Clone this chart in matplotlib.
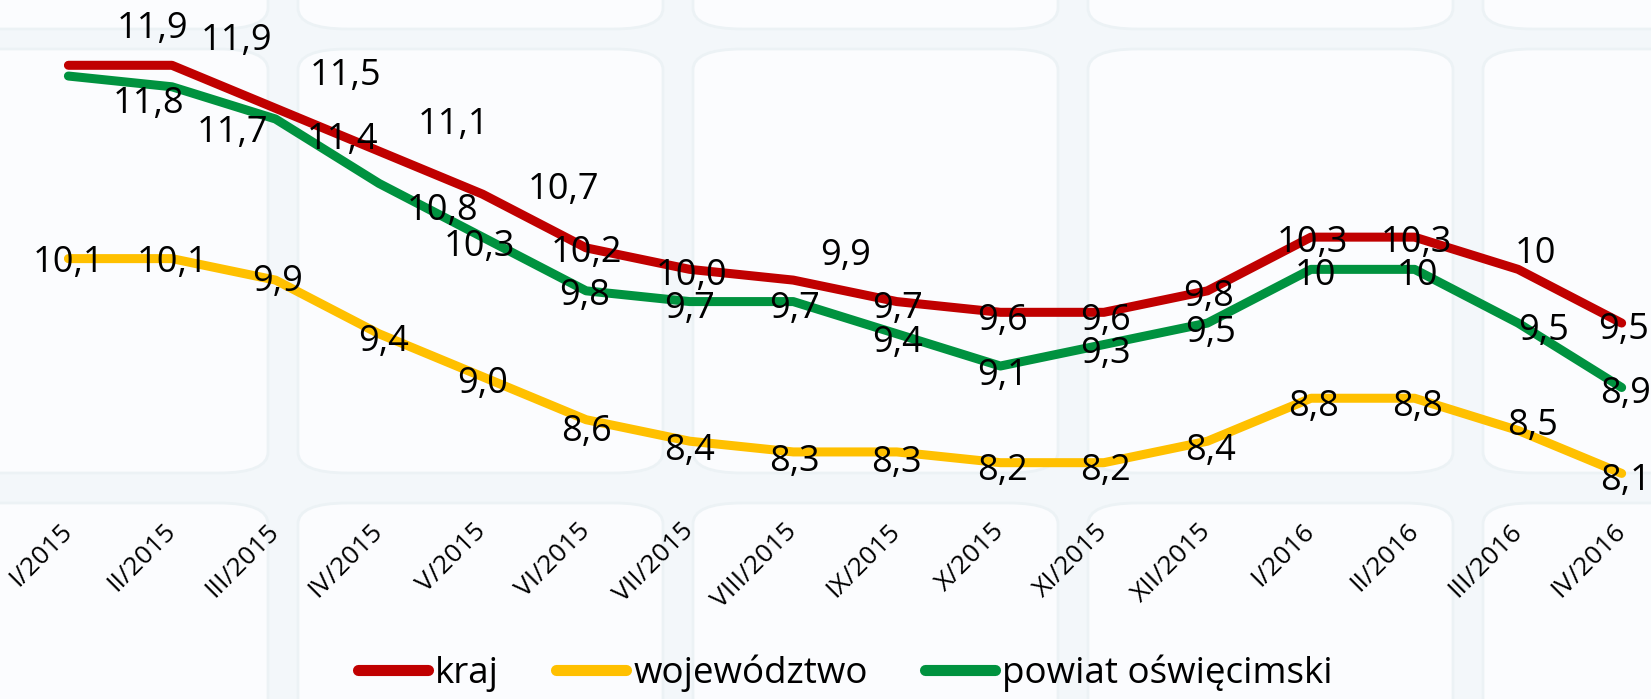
import matplotlib
matplotlib.use("Agg")
import matplotlib.pyplot as plt
from matplotlib.patches import FancyBboxPatch
from matplotlib.lines import Line2D

plt.rcParams['font.family'] = ['Open Sans', 'DejaVu Sans']

# categories (months)
months = ["I/2015", "II/2015", "III/2015", "IV/2015", "V/2015", "VI/2015",
          "VII/2015", "VIII/2015", "IX/2015", "X/2015", "XI/2015", "XII/2015",
          "I/2016", "II/2016", "III/2016", "IV/2016"]

# unemployment rate, %
kraj = [11.9, 11.9, 11.5, 11.1, 10.7, 10.2, 10.0, 9.9, 9.7, 9.6, 9.6, 9.8, 10.3, 10.3, 10.0, 9.5]
wojewodztwo = [10.1, 10.1, 9.9, 9.4, 9.0, 8.6, 8.4, 8.3, 8.3, 8.2, 8.2, 8.4, 8.8, 8.8, 8.5, 8.1]
powiat = [11.8, 11.7, 11.4, 10.8, 10.3, 9.8, 9.7, 9.7, 9.4, 9.1, 9.3, 9.5, 10.0, 10.0, 9.5, 8.9]

# data label texts as printed on the chart
kraj_labels = ["11,9", "11,9", "11,5", "11,1", "10,7", "10,2", "10,0", "9,9", "9,7", "9,6",
               "9,6", "9,8", "10,3", "10,3", "10", "9,5"]
woj_labels = ["10,1", "10,1", "9,9", "9,4", "9,0", "8,6", "8,4", "8,3", "8,3", "8,2",
              "8,2", "8,4", "8,8", "8,8", "8,5", "8,1"]
pow_labels = ["11,8", "11,7", "11,4", "10,8", "10,3", "9,8", "9,7", "9,7", "9,4", "9,1",
              "9,3", "9,5", "10", "10", "9,5", "8,9"]

# label offsets in pixels (dx right, dy down) - labels were moved by hand in the original
kraj_off = [(84, -36), (65, -24), (70, -32), (74, -26), (81, -4), (0, 5), (2, 7), (52, -24),
            (1, 7), (2, 9), (2, 9), (1, 6), (1, 6), (2, 6), (17, -15), (2, 7)]
pow_off = [(80, 28), (61, 46), (67, 21), (63, 28), (-3, 10), (-2, 5), (0, 7), (1, 7),
           (1, 9), (2, 10), (2, 9), (3, 10), (4, 7), (3, 7), (25, 8), (4, 7)]
woj_off = [(0, 4), (1, 4), (2, 2), (5, 8), (0, 7), (0, 12), (0, 10), (1, 10),
           (0, 11), (2, 8), (2, 8), (3, 10), (3, 9), (3, 9), (14, -4), (4, 8)]

RED = "#C00000"
YELLOW = "#FFC000"
GREEN = "#00923F"

W, H = 1651, 699
fig = plt.figure(figsize=(W / 100, H / 100), dpi=100)
fig.patch.set_facecolor("#F3F7FA")

# faint rounded tiles in the background
gap = 30
for cx in [-112, 283, 678, 1073, 1468]:
    for cy in [-410, 34, 488]:
        x0 = cx + gap / 2
        y0 = cy + gap / 2
        tw = 395 - gap
        th = 454 - gap
        tile = FancyBboxPatch((x0 / W, 1 - (y0 + th) / H), tw / W, th / H,
                              boxstyle="round,pad=0,rounding_size=0.03",
                              transform=fig.transFigure, facecolor="#FBFCFE",
                              edgecolor="#ECF2F5", linewidth=2, zorder=-10)
        fig.patches.append(tile)

bottom_px = 515
ax = fig.add_axes([0, 1 - bottom_px / H, 1, bottom_px / H])
ax.patch.set_alpha(0)
for s in ax.spines.values():
    s.set_visible(False)

x = list(range(len(months)))
lw = 6.5
ax.plot(x, kraj, color=RED, lw=lw, solid_capstyle="round", solid_joinstyle="round", label="kraj")
ax.plot(x, wojewodztwo, color=YELLOW, lw=lw, solid_capstyle="round", solid_joinstyle="round", label="województwo")
ax.plot(x, powiat, color=GREEN, lw=lw, solid_capstyle="round", solid_joinstyle="round", label="powiat oświęcimski")

for vals, labs, offs in [(kraj, kraj_labels, kraj_off),
                         (wojewodztwo, woj_labels, woj_off),
                         (powiat, pow_labels, pow_off)]:
    for i, (v, t, (dx, dy)) in enumerate(zip(vals, labs, offs)):
        ax.annotate(t, (i, v), xytext=(dx, -dy), textcoords="offset pixels",
                    ha="center", va="center", fontsize=26, color="black", zorder=5)

# 68 px to the first point, 103.55 px per category
ax.set_xlim(-68.4 / 103.55, (W - 68.4) / 103.55)
ax.set_ylim(11.9 - (bottom_px - 65.3) / 107.4, 11.9 + 65.3 / 107.4)
ax.set_yticks([])
ax.set_xticks(x)
ax.set_xticklabels(months, rotation=45, rotation_mode="anchor", ha="right", va="center", fontsize=19)
ax.tick_params(axis="x", length=0, pad=9)

handles = [Line2D([], [], color=c, lw=8, solid_capstyle="round") for c in (RED, YELLOW, GREEN)]
fig.legend(handles, ["kraj", "województwo", "powiat oświęcimski"], loc="center",
           bbox_to_anchor=(0.512, 0.037), ncol=3, frameon=False, fontsize=26.5,
           handlelength=1.9, handletextpad=0.2, columnspacing=1.55, borderpad=0)

fig.savefig("out.png", dpi=100, facecolor=fig.get_facecolor())
